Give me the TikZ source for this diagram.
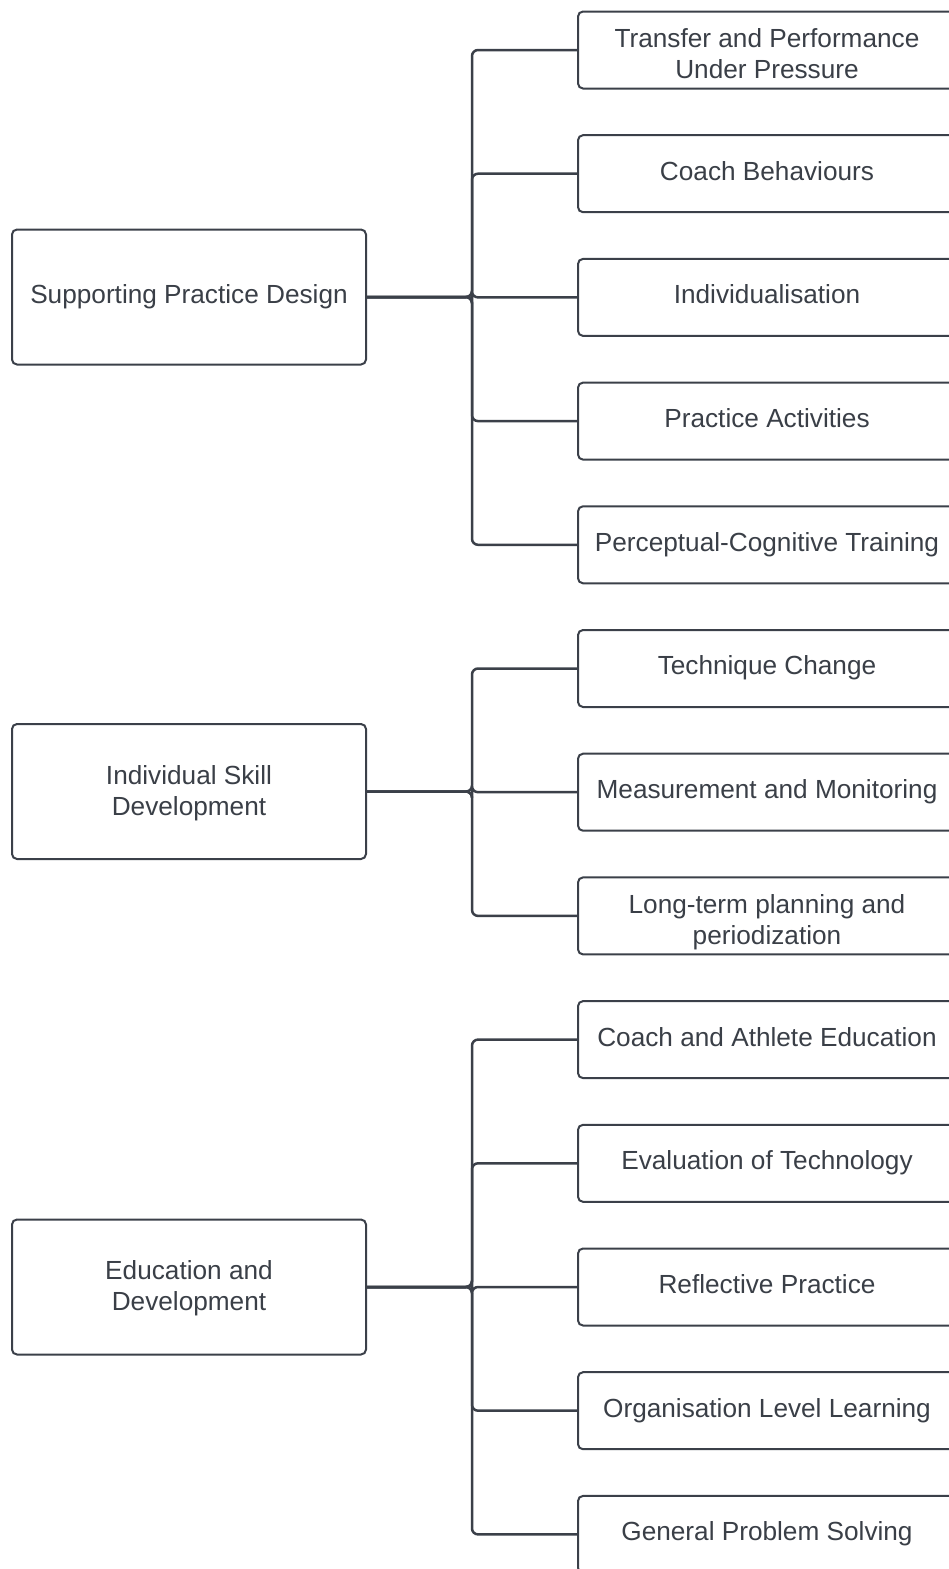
\documentclass[tikz,border=0pt]{standalone}
\usepackage{fontspec}
\setmainfont{Liberation Sans}
\definecolor{ink}{RGB}{59,64,73}
\definecolor{txt}{RGB}{58,63,71}
\begin{document}
\begin{tikzpicture}[x=1pt,y=-1pt,
  box/.style={draw=ink, line width=2pt, rounded corners=5pt, fill=white,
    align=center, text=txt, font=\fontsize{26.2}{31.3}\selectfont, inner sep=0pt,
    text height=19.65pt, text depth=6.85pt},
  twoline/.style={text height=64.55pt},
  twolinep/.style={text height=54.55pt},
  parent/.style={box, minimum width=354pt, minimum height=135pt},
  child/.style={box, minimum width=378pt, minimum height=77pt},
  conn/.style={draw=ink, line width=2.5pt, rounded corners=6pt}]
\useasboundingbox (0,0) rectangle (949,1569);
\def\dy{123.7}
% parent topics
\node[parent] (p1) at (189,297) {Supporting Practice Design};
\node[parent, twolinep] (p2) at (189,791.5) {Individual Skill\\Development};
\node[parent, twolinep] (p3) at (189,1287) {Education and\\Development};
% sub-topics
\node[child, twoline] (c1) at (767,{50+0*\dy}) {Transfer and Performance\\Under Pressure};
\node[child] (c2)  at (767,{50+1*\dy}) {Coach Behaviours};
\node[child] (c3)  at (767,{50+2*\dy}) {Individualisation};
\node[child] (c4)  at (767,{50+3*\dy}) {Practice Activities};
\node[child] (c5)  at (767,{50+4*\dy}) {Perceptual-Cognitive Training};
\node[child] (c6)  at (767,{50+5*\dy}) {Technique Change};
\node[child] (c7)  at (767,{50+6*\dy}) {Measurement and Monitoring};
\node[child, twoline] (c8) at (767,{50+7*\dy}) {Long-term planning and\\periodization};
\node[child] (c9)  at (767,{50+8*\dy}) {Coach and Athlete Education};
\node[child] (c10) at (767,{50+9*\dy}) {Evaluation of Technology};
\node[child] (c11) at (767,{50+10*\dy}) {Reflective Practice};
\node[child] (c12) at (767,{50+11*\dy}) {Organisation Level Learning};
\node[child] (c13) at (767,{50+12*\dy}) {General Problem Solving};
% trunk junctions
\coordinate (j1) at (472,297);
\coordinate (j2) at (472,791.5);
\coordinate (j3) at (472,1287);
% connectors
\foreach \c in {c1,c2,c3,c4,c5} \draw[conn] (p1.east) -- (j1) |- (\c.west);
\foreach \c in {c6,c7,c8} \draw[conn] (p2.east) -- (j2) |- (\c.west);
\foreach \c in {c9,c10,c11,c12,c13} \draw[conn] (p3.east) -- (j3) |- (\c.west);
\end{tikzpicture}
\end{document}
